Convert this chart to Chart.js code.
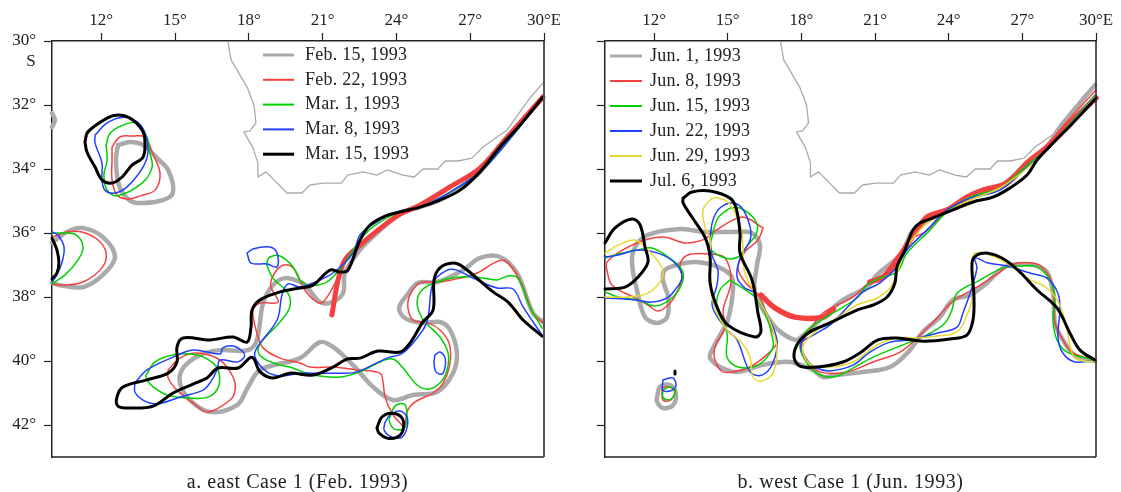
<!DOCTYPE html>
<html>
<head>
<meta charset="utf-8">
<script src="https://cdn.jsdelivr.net/npm/chart.js@4/dist/chart.umd.min.js"></script>
<style>
    html, body { margin: 0; padding: 0; background: #fff; }
    #wrap { position: relative; width: 1121px; height: 492px; overflow: hidden; }
    canvas { position: absolute; top: 0; }
</style>
</head>
<body>
<div id="wrap">
    <canvas id="east" width="560" height="492" style="left:0"></canvas>
    <canvas id="west" width="561" height="492" style="left:560px"></canvas>
</div>
<script>
// longitude / latitude (degrees E / degrees S)
const lonTicks = [12, 15, 18, 21, 24, 27, 30];
const latTicks = [30, 32, 34, 36, 38, 40, 42];

const coast = [[17.15,30.03],[17.28,30.59],[17.93,31.44],[18.21,32.0],[18.29,32.56],[18.05,32.81],[17.8,32.84],[18.17,33.34],[18.37,33.81],[18.37,34.25],[18.7,34.09],[19.55,34.75],[20.16,34.75],[20.49,34.5],[21.02,34.44],[21.75,34.44],[22.03,34.19],[22.64,34.09],[23.21,34.19],[23.62,34.03],[24.27,34.19],[24.72,34.25],[25.08,34.0],[25.69,34.0],[25.98,33.75],[26.5,33.75],[27.07,33.66],[27.52,33.31],[28.5,32.78],[29.43,31.78],[29.96,31.31]];

// panel a
const eastLabels = ['Feb. 15, 1993', 'Feb. 22, 1993', 'Mar. 1, 1993', 'Mar. 8, 1993', 'Mar. 15, 1993'];

const feb15 = [
    [[10,32.25],[10.12,32.47],[10,32.69]],
    [[12.68,33.25],[13.17,33.16],[13.7,33.25],[14.27,33.66],[14.72,34.03],[14.92,34.72],[14.51,34.97],[13.46,35.06],[13.05,34.91],[12.72,34.5],[12.6,33.72],[12.68,33.25]],
    [[10,36.31],[10.61,35.97],[11.22,35.84],[12.07,36.13],[12.56,36.75],[12.07,37.31],[11.26,37.69],[10.33,37.63],[10,37.56]],
    [[29.96,31.75],[29.23,32.41],[28.41,33.16],[27.4,34.09],[26.59,34.59],[25.77,34.97],[24.96,35.19],[24.15,35.41],[23.13,36.06],[22.52,36.53],[21.91,37.25],[21.83,37.88],[21.38,38.16],[20.89,38.16],[20.37,37.69],[20.08,37.53],[19.47,37.41],[18.98,37.63],[18.58,38.19],[18.33,39.34],[17.97,39.66],[16.83,39.66],[16.02,39.81],[15.33,40.22],[15.2,40.69],[15.61,41.22],[16.42,41.59],[17.52,41.38],[17.97,40.81],[18.46,40.28],[20.08,39.91],[20.89,39.41],[21.42,39.56],[22.24,40.13],[23.05,40.81],[23.86,41.22],[24.67,41.06],[25.65,40.97],[26.3,40.38],[26.46,39.75],[26.18,39.03],[25.77,38.78],[25.08,38.81],[24.35,38.66],[24.11,38.34],[24.43,37.94],[24.88,37.56],[25.65,37.53],[26.71,37.16],[27.4,36.78],[28.21,36.75],[28.9,37.25],[29.55,38.5],[29.96,38.78]]
];
const feb22 = [
    [[12.44,33.31],[12.76,33.0],[13.29,32.97],[13.78,33.0],[14.07,33.47],[14.39,34.13],[14.19,34.66],[13.58,34.84],[13.09,34.94],[12.64,34.81],[12.44,34.34],[12.44,33.72],[12.44,33.31]],
    [[10,36.13],[10.61,35.97],[11.22,35.97],[11.87,36.22],[12.2,36.63],[12.03,37.09],[11.26,37.53],[10.45,37.63],[10,37.59]],
    [[21.91,36.91],[21.42,37.69],[21.02,38.16],[20.77,38.16],[20.28,37.78],[19.88,37.16],[19.59,37.0],[19.27,37.06],[18.94,37.41],[18.9,37.69],[19.19,38.16],[18.46,38.19],[18.17,38.41],[18.33,39.13],[18.58,39.59],[19.27,39.91],[20.08,40.06],[20.49,40.19],[21.42,40.19],[22.4,40.28],[23.33,40.38],[23.46,40.69],[23.54,41.13],[23.82,41.63],[24.15,41.94],[24.35,42.06],[24.43,41.59],[24.76,41.28],[25.49,41.0],[25.9,40.69],[26.18,40.06],[26.14,39.44],[25.77,39.03],[25.29,38.81],[24.68,38.72],[24.47,38.34],[24.55,37.94],[24.96,37.56],[25.77,37.53],[26.59,37.41],[27.28,37.25],[28.13,36.88],[28.5,36.91],[29.02,37.47],[29.55,38.5],[29.96,38.81]],
    [[14.72,40.28],[15.2,39.91],[15.89,39.75],[16.83,39.97],[17.36,40.5],[17.44,40.91],[17.24,41.22],[16.34,41.59],[15.73,41.31],[15.08,40.91],[14.72,40.53],[14.72,40.28]]
];
const feb22Front = [[[29.96,31.75],[28.41,33.09],[27.4,33.97],[26.18,34.56],[24.96,35.13],[24.15,35.41],[23.25,35.91],[22.52,36.38],[21.91,36.84],[21.63,37.47],[21.38,38.56]]];
const mar1 = [
    [[12.2,33.25],[12.36,32.88],[12.89,32.63],[13.46,32.56],[13.86,33.0],[13.98,33.5],[14.07,33.94],[13.66,34.44],[12.64,34.84],[12.24,34.66],[12.11,34.19],[12.24,33.72],[12.2,33.25]],
    [[10,36.0],[10.45,36.0],[10.98,36.06],[11.26,36.44],[11.06,36.84],[10.53,37.31],[10,37.59]],
    [[29.96,31.75],[28.41,33.25],[27.4,34.09],[26.18,34.72],[24.96,35.19],[24.02,35.38],[23.05,35.81],[22.52,36.22],[21.83,37.0],[21.18,37.53],[20.49,37.63],[20.08,37.47],[19.8,37.06],[19.27,36.72],[18.86,36.75],[18.74,36.91],[18.78,37.09],[18.98,37.41],[19.59,37.88],[19.67,38.31],[19.27,38.78],[18.58,39.34],[18.37,39.66],[18.58,39.91],[19.27,40.13],[19.67,40.19],[20.61,40.44],[21.71,40.5],[22.52,40.34],[23.33,40.03],[23.86,39.94],[24.27,40.22],[24.84,40.75],[25.29,40.88],[25.77,40.69],[26.06,40.28],[26.1,39.75],[25.77,39.25],[25.29,38.88],[25.04,38.66],[24.84,38.19],[25.04,37.78],[25.65,37.53],[26.46,37.38],[27.28,37.38],[28.09,37.47],[28.54,37.34],[28.94,37.41],[29.43,38.31],[29.92,38.97]],
    [[13.82,40.44],[14.19,40.03],[14.92,39.81],[15.89,39.81],[16.54,40.06],[16.79,40.38],[16.75,40.84],[16.34,41.13],[15.61,41.16],[14.67,41.06],[14.11,40.81],[13.86,40.59],[13.82,40.44]],
    [[23.74,41.75],[23.94,41.41],[24.31,41.34],[24.43,41.63],[24.35,42.06],[24.07,42.16],[23.82,42.06],[23.7,41.84],[23.74,41.75]]
];
const mar8 = [
    [[11.75,32.94],[12.24,32.56],[12.89,32.38],[13.46,32.53],[13.78,32.88],[13.9,33.47],[13.7,33.94],[13.05,34.56],[12.56,34.75],[12.15,34.66],[12.03,34.34],[12.03,33.81],[11.75,33.19],[11.75,32.94]],
    [[10,35.97],[10.24,36.06],[10.49,36.44],[10.41,36.91],[10.2,37.31],[10,37.53]],
    [[17.93,36.63],[18.17,36.5],[18.86,36.44],[19.15,36.63],[19.15,37.06],[18.74,36.97],[18.09,36.94],[17.93,36.63]],
    [[29.96,31.75],[28.41,33.25],[27.4,34.09],[26.18,34.72],[24.96,35.19],[24.02,35.34],[23.13,35.69],[22.52,36.06],[22.24,36.63],[21.42,37.25],[20.61,37.56],[20.08,37.69],[19.59,37.59],[19.35,37.94],[19.15,38.72],[18.33,39.59],[18.25,39.88],[18.74,40.34],[19.35,40.47],[20.08,40.38],[20.61,40.38],[21.71,40.38],[22.4,40.34],[23.62,39.91],[24.27,39.75],[25.08,39.03],[25.29,38.63],[25.49,37.56],[26.06,37.16],[26.46,37.16],[27.11,37.41],[28.09,37.72],[28.74,37.75],[29.15,38.31],[29.92,39.19]],
    [[13.37,40.69],[13.86,40.28],[14.92,39.88],[15.73,39.66],[16.83,39.78],[16.95,39.59],[17.36,39.53],[17.77,39.72],[17.81,39.88],[17.52,40.03],[16.83,39.97],[16.71,40.28],[16.42,40.69],[16.14,40.91],[15.2,41.13],[14.27,41.34],[13.7,41.22],[13.37,40.97],[13.37,40.69]],
    [[25.57,39.81],[25.77,39.72],[25.98,39.91],[25.98,40.19],[25.85,40.41],[25.61,40.34],[25.53,40.06],[25.57,39.81]],
    [[23.54,41.91],[23.74,41.69],[24.15,41.56],[24.43,41.75],[24.43,42.09],[24.23,42.38],[23.82,42.38],[23.5,42.16],[23.54,41.91]]
];
const mar15 = [
    [[11.34,33.16],[11.46,32.84],[12.24,32.41],[12.68,32.31],[13.17,32.41],[13.66,32.78],[13.78,33.16],[13.7,33.63],[13.25,33.88],[12.85,34.25],[12.44,34.44],[12.03,34.34],[11.75,33.94],[11.42,33.47],[11.34,33.16]],
    [[10,36.16],[10.2,36.53],[10.28,36.94],[10.2,37.25],[10,37.44]],
    [[29.96,31.75],[29.02,32.63],[28.21,33.31],[27.4,34.09],[26.59,34.66],[25.77,34.97],[24.96,35.19],[24.15,35.34],[23.54,35.47],[22.93,35.75],[22.52,36.22],[22.03,37.16],[21.71,37.22],[21.3,37.16],[20.61,37.63],[20.08,37.72],[19.27,37.84],[18.46,38.09],[18.13,38.41],[18.09,38.94],[17.93,39.41],[17.36,39.25],[16.42,39.34],[15.33,39.28],[15.08,39.56],[15.08,40.03],[14.72,40.38],[13.86,40.59],[12.89,40.81],[12.64,41.13],[12.68,41.41],[13.17,41.47],[14.11,41.41],[14.92,41.0],[15.73,40.72],[16.3,40.53],[16.75,40.22],[17.56,40.22],[18.13,39.88],[18.46,40.34],[18.98,40.53],[19.67,40.38],[20.61,40.44],[21.42,40.19],[21.99,39.94],[22.52,39.91],[23.25,39.69],[24.15,39.72],[24.55,39.44],[25.08,38.78],[25.49,38.41],[25.53,37.47],[25.77,37.09],[26.3,36.94],[26.71,37.06],[27.93,37.84],[28.54,38.16],[29.15,38.72],[29.92,39.22]],
    [[23.21,42.09],[23.41,41.75],[23.82,41.63],[24.23,41.78],[24.27,42.16],[24.03,42.38],[23.62,42.41],[23.29,42.25],[23.21,42.09]]
];

// panel b
const westLabels = ['Jun. 1, 1993', 'Jun. 8, 1993', 'Jun. 15, 1993', 'Jun. 22, 1993', 'Jun. 29, 1993', 'Jul. 6, 1993'];

const jun1 = [
    [[29.96,31.38],[28.53,32.69],[28.0,33.31],[27.03,33.94],[26.09,34.56],[24.87,34.91],[23.93,35.28],[22.95,35.69],[22.5,35.97],[22.34,36.22],[22.02,36.69],[21.08,37.31],[20.67,37.69],[19.69,38.09],[18.88,38.63],[17.94,39.28],[17.74,39.34],[17.21,39.13],[16.8,38.81],[16.11,37.88],[16.19,37.0],[16.31,36.38],[15.99,36.0],[15.01,35.97],[14.07,35.97],[12.97,35.88],[11.75,36.06],[11.22,36.44],[11.1,36.94],[11.3,37.78],[11.63,38.63],[12.12,38.81],[12.53,38.63],[12.57,38.0],[12.36,37.47],[12.44,37.16],[12.93,37.0],[13.67,36.91],[14.6,37.06],[15.17,37.38],[15.17,38.09],[14.97,38.81],[14.81,39.03],[14.36,39.66],[14.28,39.91],[14.77,40.22],[15.42,40.34],[16.39,40.13],[17.21,40.03],[17.74,40.06],[18.47,40.28],[18.88,40.5],[19.45,40.44],[20.51,40.34],[21.61,40.19],[22.42,39.66],[22.95,39.09],[23.64,38.63],[24.17,38.09],[24.87,37.94],[25.56,37.56],[26.09,37.16],[26.5,37.0],[27.43,37.0],[28.0,37.22],[28.25,37.88],[28.33,38.81],[28.65,39.34],[29.22,39.88],[29.96,40.0]],
    [[12.12,41.13],[12.24,40.81],[12.65,40.75],[12.89,41.0],[12.77,41.38],[12.36,41.47],[12.12,41.28],[12.12,41.13]]
];
const jun8 = [
    [[30,31.53],[28.53,32.78],[28.0,33.31],[27.03,33.94],[26.09,34.5],[24.87,34.97],[23.93,35.34],[23.03,35.97],[22.42,36.22],[21.89,37.06],[21.49,37.25],[20.79,37.53],[20.1,38.0],[18.88,38.5],[18.35,39.03],[18.02,39.5],[18.23,39.97],[18.76,40.34],[19.86,40.34],[20.92,40.03],[22.02,39.72],[22.71,39.28],[23.52,38.66],[24.13,38.16],[25.15,37.69],[26.09,37.22],[26.5,37.0],[27.43,36.94],[27.92,37.16],[28.25,37.69],[28.33,38.81],[28.65,39.34],[29.06,39.75],[29.96,39.97]],
    [[16.44,35.84],[15.58,35.5],[14.36,36.0],[14.07,36.19],[13.26,36.31],[12.44,36.13],[11.63,36.22],[10.73,36.53],[10.08,36.91],[10.08,37.16],[10.29,37.63],[11.22,38.03],[11.75,38.25],[12.16,38.44],[12.65,38.19],[12.97,37.78],[13.14,37.38],[13.05,37.0],[13.38,36.69],[14.28,36.66],[14.89,36.78],[15.13,37.53],[14.81,38.41],[14.89,38.94],[14.48,39.56],[14.48,39.97],[14.81,40.34],[15.58,40.28],[16.23,40.03],[17.0,39.44],[16.8,39.03],[16.31,38.0],[15.7,37.53],[15.42,37.09],[15.7,36.59],[16.23,36.22],[16.44,35.84]],
    [[12.32,40.84],[12.57,40.81],[12.85,40.91],[12.69,41.22],[12.36,41.22],[12.32,40.84]]
];
const jun8Front = [
    [[16.35,37.94],[16.92,38.34],[17.74,38.63],[18.88,38.63],[19.3,38.38]],
    [[20.79,37.53],[21.32,37.38],[21.89,36.84],[22.63,36.0],[23.12,35.5],[23.93,35.28],[24.75,34.88],[25.4,34.66],[26.37,34.44],[27.19,33.81],[28.0,33.31],[29.06,32.47],[30,31.78]]
];
const jun15 = [
    [[29.96,31.69],[28.53,32.94],[28.0,33.38],[27.11,33.94],[26.09,34.59],[24.87,34.88],[23.93,35.34],[23.24,35.91],[22.3,36.63],[21.89,37.22],[21.2,37.41],[20.67,37.63],[20.26,38.03],[19.16,38.56],[18.27,39.03],[17.94,39.56],[18.35,40.19],[18.88,40.47],[19.45,40.47],[20.1,40.22],[20.92,39.88],[22.42,39.41],[23.11,39.19],[23.85,38.81],[24.13,38.41],[24.34,37.88],[25.27,37.47],[26.21,37.09],[26.9,37.03],[27.6,37.06],[28.12,37.47],[28.33,38.0],[28.25,38.72],[28.41,39.34],[28.82,39.72],[29.96,39.97]],
    [[15.09,35.22],[15.5,35.22],[16.11,35.59],[16.19,35.97],[15.82,36.38],[15.42,36.75],[14.89,36.78],[14.28,36.47],[14.36,36.13],[14.6,35.53],[15.09,35.22]],
    [[10,36.78],[10.69,36.63],[11.34,36.53],[11.91,36.47],[12.57,36.75],[13.14,37.16],[13.14,37.56],[12.73,38.03],[12.04,38.28],[11.34,38.09],[10.53,38.0],[10,37.84]],
    [[15.09,37.47],[14.68,37.78],[14.56,38.31],[14.97,39.13],[14.97,39.88],[15.42,40.19],[16.23,40.13],[16.8,39.66],[16.84,39.34],[16.52,38.5],[16.11,38.0],[15.09,37.47]],
    [[12.36,40.91],[12.61,40.81],[12.85,40.91],[12.77,41.13],[12.57,41.22],[12.36,41.13],[12.36,40.91]]
];
const jun22 = [
    [[29.96,31.72],[28.53,32.97],[28.0,33.41],[27.11,34.0],[26.09,34.66],[24.87,34.91],[23.93,35.28],[23.11,35.91],[22.3,36.53],[21.89,37.06],[21.2,37.56],[20.51,37.84],[19.69,38.47],[19.16,38.88],[18.35,39.25],[17.98,39.44],[18.15,39.91],[18.63,40.22],[19.16,40.31],[20.1,40.13],[20.79,39.72],[21.61,39.41],[22.42,39.34],[23.52,39.13],[24.34,38.94],[24.58,38.5],[24.87,37.88],[25.15,37.09],[25.07,36.78],[25.6,36.94],[26.37,37.03],[27.31,37.25],[28.0,37.41],[28.45,37.88],[28.53,38.41],[28.45,39.25],[28.65,39.75],[29.14,40.03],[29.96,39.97]],
    [[10,36.75],[10.53,36.69],[11.34,36.53],[12.16,36.63],[12.85,36.94],[13.14,37.38],[12.85,37.78],[12.53,38.03],[11.91,38.16],[11.22,38.09],[10,38.03]],
    [[14.28,36.13],[14.4,35.59],[14.68,35.22],[15.17,35.06],[15.58,35.22],[15.91,35.81],[15.91,36.22],[15.5,36.78],[15.38,37.38],[15.7,37.72],[16.11,37.88],[16.64,38.63],[17.0,39.34],[16.84,40.06],[16.39,40.44],[15.91,40.34],[15.38,39.34],[14.97,39.03],[14.48,38.5],[14.36,38.19],[14.56,37.63],[14.6,37.16],[14.36,36.69],[14.28,36.13]],
    [[12.36,40.59],[12.77,40.53],[12.89,40.78],[12.65,40.94],[12.36,40.91],[12.36,40.59]]
];
const jun29 = [
    [[29.96,31.75],[28.53,32.97],[28.0,33.41],[27.11,34.03],[26.09,34.59],[24.87,34.97],[23.93,35.34],[23.03,35.75],[22.5,36.22],[22.22,36.53],[21.89,37.25],[21.61,37.72],[21.08,38.03],[20.26,38.25],[19.45,38.66],[18.76,38.97],[18.15,39.41],[18.06,39.75],[18.43,40.13],[19.16,40.19],[20.1,40.03],[21.08,39.5],[21.89,39.28],[22.71,39.28],[23.52,39.22],[24.34,39.09],[24.78,38.5],[24.99,37.88],[24.95,36.94],[25.07,36.63],[25.56,36.66],[26.37,36.94],[27.19,37.41],[28.0,37.72],[28.53,38.25],[28.82,39.03],[29.06,39.81],[29.47,40.0],[29.96,40.0]],
    [[10,36.63],[10.53,36.38],[11.22,36.22],[11.83,36.59],[12.36,37.16],[12.24,37.53],[11.75,37.88],[10.94,38.0],[10,38.0]],
    [[14.48,34.88],[15.01,35.03],[15.42,35.59],[15.58,36.0],[15.62,36.53],[15.7,37.25],[16.11,37.88],[16.64,38.63],[17.0,39.56],[16.84,40.38],[16.39,40.63],[16.03,40.5],[15.91,39.88],[15.58,39.44],[14.97,39.03],[14.56,38.5],[14.36,38.0],[14.28,36.94],[14.28,36.16],[14.07,35.81],[13.99,35.28],[14.28,34.97],[14.48,34.88]]
];
const jul6 = [
    [[30,31.78],[29.06,32.56],[28.25,33.19],[27.6,33.72],[27.19,34.19],[26.5,34.59],[25.8,34.88],[24.99,35.03],[24.17,35.28],[23.36,35.53],[22.83,35.69],[22.54,35.91],[22.22,36.53],[21.89,37.06],[21.81,37.56],[21.49,38.0],[20.92,38.25],[20.26,38.41],[19.16,38.81],[18.35,39.09],[17.86,39.44],[17.7,39.88],[17.94,40.16],[18.63,40.19],[19.69,40.03],[20.38,39.75],[21.12,39.34],[21.89,39.28],[22.95,39.38],[24.05,39.31],[24.74,39.19],[24.99,38.72],[25.03,38.0],[24.95,36.94],[25.15,36.69],[25.6,36.63],[26.17,36.78],[26.82,37.16],[27.6,37.78],[28.41,38.34],[28.94,39.13],[29.35,39.66],[29.96,39.97]],
    [[10,36.31],[10.41,35.84],[11.1,35.56],[11.43,35.75],[11.63,36.44],[11.75,36.91],[11.34,37.38],[10.81,37.69],[10,37.75]],
    [[13.18,34.91],[13.54,34.72],[14.28,34.69],[15.09,34.91],[15.34,35.22],[15.5,36.0],[15.5,36.63],[15.99,37.47],[16.23,38.5],[16.35,39.09],[16.11,39.25],[15.01,38.88],[14.56,38.31],[14.28,37.56],[14.28,36.75],[14.07,36.13],[13.54,35.5],[13.18,35.06],[13.18,34.91]],
    [[12.85,40.31],[12.85,40.41]]
];

const GRAY = '#aaaaaa', RED = '#f54040', GREEN = '#00d000', BLUE = '#2040ff', YELLOW = '#e8d830', BLACK = '#000000';
const SERIF = '"Liberation Serif", serif';

function toPoints(segments) {
    const out = [];
    segments.forEach((seg, i) => {
        if (i > 0) out.push({ x: null, y: null });
        seg.forEach(p => out.push({ x: p[0], y: p[1] }));
    });
    return out;
}

function line(label, segments, color, width, tension) {
    return {
        label: label,
        data: toPoints(segments),
        borderColor: color,
        backgroundColor: color,
        borderWidth: width,
        pointRadius: 0,
        showLine: true,
        tension: tension,
        borderJoinStyle: 'round',
        borderCapStyle: 'round',
        clip: false
    };
}

// legend, frame, caption and the "S" are drawn by hand so they land where the figure has them
const panelDecor = {
    id: 'panelDecor',
    afterDatasetsDraw(chart, args, opts) {
        const ctx = chart.ctx;
        const area = chart.chartArea;
        ctx.save();
        ctx.strokeStyle = '#222';
        ctx.lineWidth = 1.5;
        ctx.beginPath();
        ctx.moveTo(area.left, area.bottom);
        ctx.lineTo(area.right, area.bottom);
        ctx.stroke();
        ctx.strokeStyle = opts.rightColor;
        ctx.lineWidth = opts.rightWidth;
        ctx.beginPath();
        ctx.moveTo(area.right, area.top);
        ctx.lineTo(area.right, area.bottom);
        ctx.stroke();

        ctx.font = '18px ' + SERIF;
        ctx.fillStyle = '#222';
        ctx.textBaseline = 'middle';
        ctx.textAlign = 'left';
        ctx.letterSpacing = opts.spacing;
        opts.items.forEach((item, i) => {
            const y = opts.top + i * opts.step;
            ctx.strokeStyle = item.color;
            ctx.lineWidth = item.width;
            ctx.beginPath();
            ctx.moveTo(opts.left, y);
            ctx.lineTo(opts.left + opts.length, y);
            ctx.stroke();
            ctx.fillText(item.label, opts.left + opts.length + opts.gap, y);
        });

        ctx.font = '20px ' + SERIF;
        ctx.textAlign = 'center';
        ctx.letterSpacing = '0.55px';
        ctx.fillText(opts.caption, opts.captionX, 483);
        ctx.letterSpacing = '0px';
        if (opts.showS) {
            ctx.font = '17px ' + SERIF;
            ctx.fillText('S', 31, 62);
        }
        ctx.restore();
    }
};

function makePanel(canvasId, cfg) {
    return new Chart(document.getElementById(canvasId), {
        type: 'scatter',
        data: { datasets: cfg.datasets.map((d, i) => Object.assign(d, { order: -i })) },
        plugins: [panelDecor],
        options: {
            responsive: false,
            animation: false,
            layout: { padding: { left: 0, top: 0, right: cfg.padRight, bottom: 35 } },
            plugins: {
                legend: { display: false },
                tooltip: { enabled: false },
                panelDecor: cfg.decor
            },
            scales: {
                x: {
                    type: 'linear',
                    position: 'top',
                    min: 10,
                    max: 30,
                    afterBuildTicks: s => { s.ticks = lonTicks.map(v => ({ value: v })); },
                    afterFit: s => { s.height = 41; s.paddingLeft = 0; s.paddingRight = 0; },
                    border: { color: '#222', width: 1.5 },
                    grid: { drawOnChartArea: false, drawTicks: true, tickLength: 8, tickColor: '#222', tickWidth: 1.2 },
                    ticks: {
                        autoSkip: false,
                        maxRotation: 0,
                        padding: 2,
                        color: '#222',
                        font: { family: SERIF, size: 17 },
                        callback: v => v === 30 ? '30°E' : v + '°'
                    }
                },
                y: {
                    type: 'linear',
                    reverse: true,
                    min: 30,
                    max: 43,
                    afterBuildTicks: s => { s.ticks = latTicks.map(v => ({ value: v })); },
                    afterFit: s => { s.width = cfg.yWidth; s.paddingTop = 0; s.paddingBottom = 0; },
                    border: { color: '#222', width: 1.5 },
                    grid: { drawOnChartArea: false, drawTicks: true, tickLength: 8, tickColor: '#222', tickWidth: 1.2 },
                    ticks: {
                        autoSkip: false,
                        padding: 8,
                        color: '#222',
                        font: { family: SERIF, size: 17 },
                        callback: v => cfg.yLabels ? v + '°' : ''
                    }
                }
            }
        }
    });
}

const T = 0.35;

makePanel('east', {
    yWidth: 52,
    yLabels: true,
    padRight: 16,
    datasets: [
        line('coast', [coast], GRAY, 1.3, 0),
        line(eastLabels[0], feb15, GRAY, 4.5, T),
        line('', feb22Front, RED, 5, T),
        line(eastLabels[1], feb22, RED, 1.5, T),
        line(eastLabels[2], mar1, GREEN, 1.5, T),
        line(eastLabels[3], mar8, BLUE, 1.5, T),
        line(eastLabels[4], mar15, BLACK, 3, T)
    ],
    decor: {
        caption: 'a. east Case 1 (Feb. 1993)', captionX: 297.5,
        left: 263, top: 55, step: 24.8, length: 31, gap: 11, showS: true, rightColor: '#555', rightWidth: 2, spacing: '0.25px',
        items: [
            { label: eastLabels[0], color: GRAY, width: 3 },
            { label: eastLabels[1], color: RED, width: 2 },
            { label: eastLabels[2], color: GREEN, width: 2 },
            { label: eastLabels[3], color: BLUE, width: 2 },
            { label: eastLabels[4], color: BLACK, width: 3 }
        ]
    }
});

makePanel('west', {
    yWidth: 45,
    yLabels: false,
    padRight: 25,
    datasets: [
        line('coast', [coast], GRAY, 1.3, 0),
        line(westLabels[0], jun1, GRAY, 4.5, T),
        line('', jun8Front, RED, 5.5, T),
        line(westLabels[1], jun8, RED, 1.5, T),
        line(westLabels[2], jun15, GREEN, 1.5, T),
        line(westLabels[3], jun22, BLUE, 1.5, T),
        line(westLabels[4], jun29, YELLOW, 1.5, T),
        line(westLabels[5], jul6, BLACK, 3, T)
    ],
    decor: {
        caption: 'b. west Case 1 (Jun. 1993)', captionX: 290.5,
        left: 50, top: 56, step: 25, length: 32, gap: 8, showS: false, rightColor: '#222', rightWidth: 1.5, spacing: '0.25px',
        items: [
            { label: westLabels[0], color: GRAY, width: 3 },
            { label: westLabels[1], color: RED, width: 2 },
            { label: westLabels[2], color: GREEN, width: 2 },
            { label: westLabels[3], color: BLUE, width: 2 },
            { label: westLabels[4], color: YELLOW, width: 2 },
            { label: westLabels[5], color: BLACK, width: 3 }
        ]
    }
});
</script>
</body>
</html>
